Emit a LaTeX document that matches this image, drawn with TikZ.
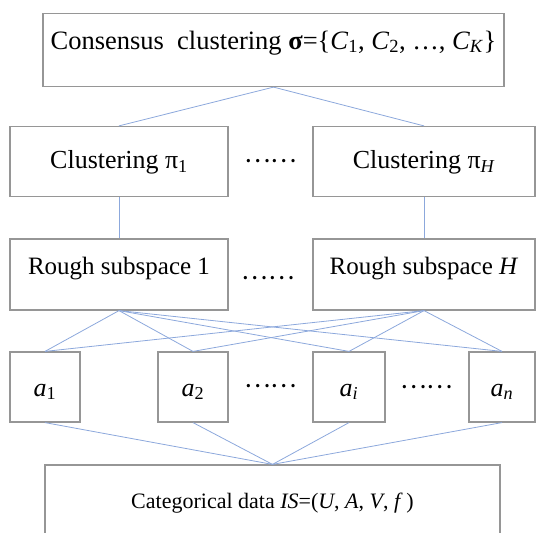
\documentclass[tikz,border=0pt]{standalone}
\usepackage{fontspec}
\setmainfont{Liberation Serif}
\newfontfamily\cjk{Noto Sans CJK SC}
\definecolor{boxgray}{RGB}{150,150,150}
\definecolor{linkblue}{RGB}{140,168,220}
\tikzset{
  box/.style={draw=boxgray, line width=1.2pt, inner sep=0pt},
  big/.style={font=\fontsize{26.5}{31}\selectfont},
  mid/.style={font=\fontsize{26}{31}\selectfont},
  std/.style={font=\fontsize{25}{30}\selectfont},
  small/.style={font=\fontsize{22}{27}\selectfont},
  link/.style={draw=linkblue, line width=0.8pt},
  dotrow/.style={inner sep=0pt, font=\cjk\fontsize{25}{30}\selectfont}
}
\begin{document}
\begin{tikzpicture}[x=1pt, y=-1pt]
  \useasboundingbox (0,0) rectangle (536,533);
  \clip (0,0) rectangle (536,533);

  % consensus result
  \node[box, big, minimum width=461pt, minimum height=73pt,
        text height=17pt, text depth=19pt] (top) at (273.5,50)
    {Consensus\ \ clustering \textbf{σ}=\{\textit{C}\textsubscript{1}, \textit{C}\textsubscript{2}, …, \textit{C}\textsubscript{\textit{K}}\}};

  % base clusterings
  \node[box, mid, minimum width=218pt, minimum height=70pt,
        text height=14pt, text depth=0pt] (c1) at (119,161.5)
    {Clustering π\textsubscript{1}};
  \node[box, mid, minimum width=222pt, minimum height=70pt,
        text height=14pt, text depth=0pt] (cH) at (424,161.5)
    {Clustering π\textsubscript{\textit{H}}};
  \node[dotrow] (d1) at (270.5,161) {……};

  % rough subspaces
  \node[box, std, minimum width=218pt, minimum height=71pt,
        text height=17pt, text depth=18pt] (r1) at (119,274.5)
    {Rough subspace 1};
  \node[box, std, minimum width=222pt, minimum height=71pt,
        text height=17pt, text depth=18pt] (rH) at (424,274.5)
    {Rough subspace \textit{H}};
  \node[dotrow] (d2) at (268,278) {……};

  % attributes
  \node[box, mid, minimum width=70pt, minimum height=70pt,
        text height=18pt, text depth=0pt] (a1) at (45,387)
    {\textit{a}\textsubscript{1}};
  \node[box, mid, minimum width=70pt, minimum height=70pt,
        text height=18pt, text depth=0pt] (a2) at (193,387)
    {\textit{a}\textsubscript{2}};
  \node[box, mid, minimum width=72pt, minimum height=70pt,
        text height=18pt, text depth=0pt] (ai) at (349,387)
    {\textit{a}\textsubscript{\textit{i}}};
  \node[box, mid, minimum width=66pt, minimum height=70pt,
        text height=18pt, text depth=0pt] (an) at (502,387)
    {\textit{a}\textsubscript{\textit{n}}};
  \node[dotrow] (d3) at (270.5,386) {……};
  \node[dotrow] (d4) at (426.5,387) {……};

  % data set
  \node[box, small, minimum width=455pt, minimum height=80pt,
        text height=17pt, text depth=11pt] (bot) at (272.5,505)
    {Categorical data \textit{IS}=(\textit{U}, \textit{A}, \textit{V}, \textit{f}\,)};

  % connectors
  \draw[link] (top.south) -- (c1.north);
  \draw[link] (top.south) -- (cH.north);
  \draw[link] (c1.south) -- (r1.north);
  \draw[link] (cH.south) -- (rH.north);
  \foreach \a in {a1,a2,ai,an} {
    \draw[link] (r1.south) -- (\a.north);
    \draw[link] (rH.south) -- (\a.north);
    \draw[link] (\a.south) -- (bot.north);
  }
\end{tikzpicture}
\end{document}
